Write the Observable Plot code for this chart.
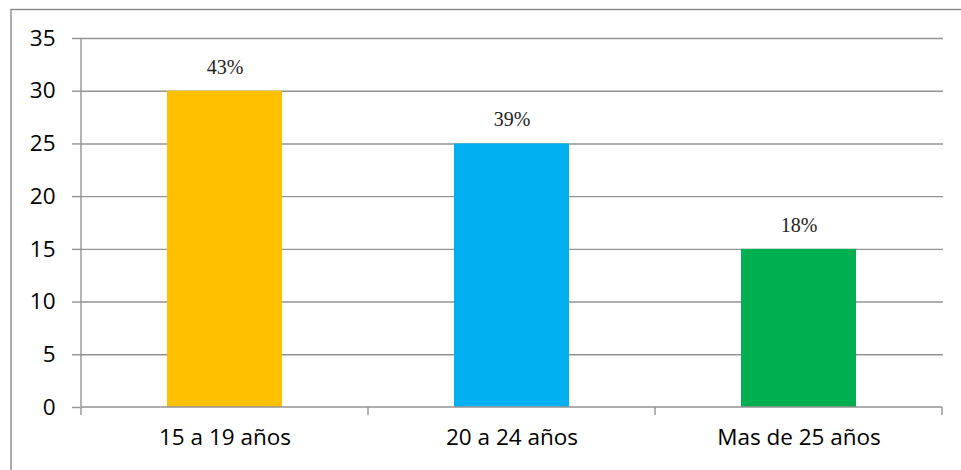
<!DOCTYPE html>
<html>
<head>
<meta charset="utf-8">
<script src="https://cdn.jsdelivr.net/npm/d3@7"></script>
<script src="https://cdn.jsdelivr.net/npm/@observablehq/plot@0.6"></script>
<style>
  html, body { margin: 0; padding: 0; background: #fff; }
  #chart { width: 961px; height: 470px; }
</style>
</head>
<body>
<div id="chart"></div>
<script>
const categories = ["15 a 19 años", "20 a 24 años", "Mas de 25 años"];
const values = [30, 25, 15];
const labels = ["43%", "39%", "18%"];
const colors = ["#FFC000", "#00B0F0", "#00B050"];
const yTicks = [0, 5, 10, 15, 20, 25, 30, 35];

const data = categories.map((c, i) => ({cat: c, value: values[i], label: labels[i], color: colors[i]}));

const W = 961, H = 470;
const gridColor = "#939393";

const axisLines = (index, scales, values, dims) => {
  const x = scales.x, y = scales.y;
  const step = x.step(), bw = x.bandwidth();
  const gap = (step - bw) / 2;
  const xs = categories.map(c => x(c) - gap);
  xs.push(x(categories[categories.length - 1]) + bw + gap);
  const y0 = y(0), yTop = y(35);
  const g = d3.create("svg:g");
  g.append("line")
    .attr("x1", xs[0]).attr("x2", xs[0])
    .attr("y1", yTop).attr("y2", y0)
    .attr("stroke", gridColor).attr("stroke-width", 1.4);
  g.append("line")
    .attr("x1", xs[0]).attr("x2", xs[xs.length - 1])
    .attr("y1", y0).attr("y2", y0)
    .attr("stroke", gridColor).attr("stroke-width", 1.4);
  for (const xv of xs) {
    g.append("line")
      .attr("x1", xv).attr("x2", xv)
      .attr("y1", y0).attr("y2", y0 + 8)
      .attr("stroke", gridColor).attr("stroke-width", 1.4);
  }
  return g.node();
};

const chart = Plot.plot({
  width: W,
  height: H,
  marginLeft: 80,
  marginRight: 18,
  marginTop: 38,
  marginBottom: 63,
  style: {fontFamily: "'Open Sans', sans-serif", background: "#fff", overflow: "visible"},
  x: {domain: categories, paddingInner: 0.6, paddingOuter: 0.3, label: null},
  y: {domain: [0, 35], ticks: yTicks, label: null},
  marks: [
    Plot.gridY(yTicks.filter(v => v > 0), {stroke: gridColor, strokeOpacity: 1, strokeWidth: 1.4}),
    Plot.barY(data, {x: "cat", y: "value", fill: "color"}),
    Plot.axisY({ticks: yTicks, tickSize: 8, tickPadding: 17, stroke: gridColor, strokeWidth: 1.4,
      fontSize: 22.5, fill: "#000"}),
    Plot.axisX({tickSize: 0, tickPadding: 22, fontSize: 22.5, fill: "#000"}),
    axisLines,
    Plot.text(data, {x: "cat", y: "value", text: "label", dy: -24, lineAnchor: "middle",
      fontFamily: "'Liberation Serif', 'Times New Roman', serif", fontSize: 20, fill: "#222"})
  ]
});

d3.select(chart).append("rect")
  .attr("x", 11).attr("y", 9.5)
  .attr("width", W + 10).attr("height", H + 10)
  .attr("fill", "none").attr("stroke", "#8a8a8a").attr("stroke-width", 1.4);

document.getElementById("chart").appendChild(chart);
</script>
</body>
</html>
